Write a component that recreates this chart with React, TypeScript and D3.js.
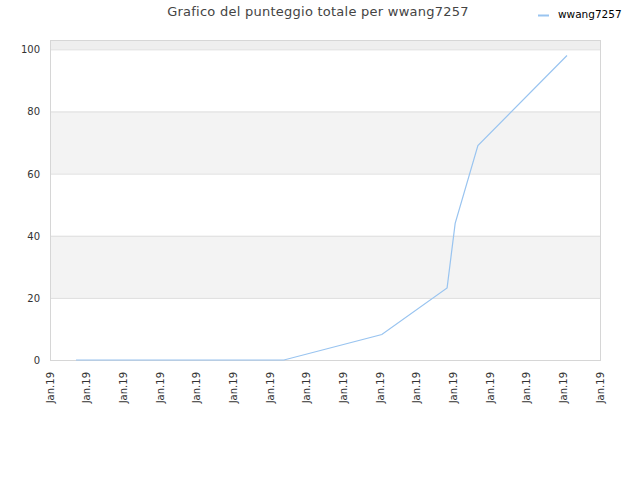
import React, { useEffect, useRef } from 'react';
import * as d3 from 'd3';

const title = 'Grafico del punteggio totale per wwang7257';
const seriesName = 'wwang7257';

// x positions are in label intervals (0 = first "Jan.19" tick)
const pointX = [0.71, 2, 4, 6.38, 9.05, 10.83, 11.05, 11.67, 14.1];
const pointY = [0, 0, 0, 0, 8.2, 23.2, 44, 69, 98];

const xTickLabels = Array.from({ length: 16 }, () => 'Jan.19');
const yTicks = [0, 20, 40, 60, 80, 100];

const App: React.FC = () => {
  const svgRef = useRef<SVGSVGElement>(null);

  useEffect(() => {
    if (!svgRef.current) return;
    const width = 640;
    const height = 480;
    const margin = { top: 40, right: 40, bottom: 120, left: 50 };
    const chartWidth = width - margin.left - margin.right;
    const chartHeight = height - margin.top - margin.bottom;

    const svg = d3.select(svgRef.current);
    svg.selectAll('*').remove();

    const font = '"DejaVu Sans", sans-serif';

    const xScale = d3.scaleLinear()
      .domain([0, xTickLabels.length - 1])
      .range([0, chartWidth]);

    const yScale = d3.scaleLinear()
      .domain([0, 103])
      .range([chartHeight, 0]);

    const g = svg.append('g')
      .attr('transform', `translate(${margin.left},${margin.top})`);

    // alternating bands
    const bandEdges = [...yTicks, 103];
    g.selectAll('.band')
      .data(d3.range(bandEdges.length - 1))
      .enter()
      .append('rect')
      .attr('x', 0)
      .attr('width', chartWidth)
      .attr('y', i => yScale(bandEdges[i + 1]))
      .attr('height', i => yScale(bandEdges[i]) - yScale(bandEdges[i + 1]))
      .attr('fill', i => (i === bandEdges.length - 2 ? '#eeeeee' : i % 2 === 1 ? '#f3f3f3' : '#ffffff'));

    // grid lines
    g.selectAll('.grid')
      .data(yTicks.slice(1))
      .enter()
      .append('line')
      .attr('x1', 0)
      .attr('x2', chartWidth)
      .attr('y1', d => yScale(d) + 0.5)
      .attr('y2', d => yScale(d) + 0.5)
      .attr('stroke', '#dddddd')
      .attr('stroke-width', 1);

    // border
    g.append('rect')
      .attr('x', 0.5)
      .attr('y', 0.5)
      .attr('width', chartWidth)
      .attr('height', chartHeight)
      .attr('fill', 'none')
      .attr('stroke', '#d6d6d6');

    // y labels
    g.selectAll('.ylab')
      .data(yTicks)
      .enter()
      .append('text')
      .attr('x', -10)
      .attr('y', d => yScale(d) + 4)
      .attr('text-anchor', 'end')
      .attr('font-family', font)
      .attr('font-size', '10px')
      .attr('fill', '#333333')
      .text(d => d);

    // x labels
    g.selectAll('.xlab')
      .data(xTickLabels)
      .enter()
      .append('text')
      .attr('transform', (_, i) => `translate(${xScale(i) + 3.5},${chartHeight + 12}) rotate(-90)`)
      .attr('text-anchor', 'end')
      .attr('font-family', font)
      .attr('font-size', '10px')
      .attr('fill', '#333333')
      .text(d => d);

    // series line
    const line = d3.line<number>()
      .x(i => xScale(pointX[i]))
      .y(i => yScale(pointY[i]));

    g.append('path')
      .datum(d3.range(pointX.length))
      .attr('d', line)
      .attr('fill', 'none')
      .attr('stroke', '#99c4f0')
      .attr('stroke-width', 1.2);

    // title
    svg.append('text')
      .attr('x', 318)
      .attr('y', 16)
      .attr('text-anchor', 'middle')
      .attr('font-family', font)
      .attr('font-size', '13px')
      .attr('letter-spacing', '0.25px')
      .attr('fill', '#444444')
      .text(title);

    // legend
    svg.append('line')
      .attr('x1', 538)
      .attr('x2', 549)
      .attr('y1', 15.5)
      .attr('y2', 15.5)
      .attr('stroke', '#99c4f0')
      .attr('stroke-width', 2);

    svg.append('text')
      .attr('x', 558)
      .attr('y', 18)
      .attr('font-family', font)
      .attr('font-size', '10.5px')
      .attr('fill', '#000000')
      .text(seriesName);
  }, []);

  return (
    <div style={{ position: 'absolute', left: 0, top: 0, width: 640, height: 480, background: '#ffffff' }}>
      <svg ref={svgRef} width={640} height={480} style={{ display: 'block' }} />
    </div>
  );
};

export default App;
